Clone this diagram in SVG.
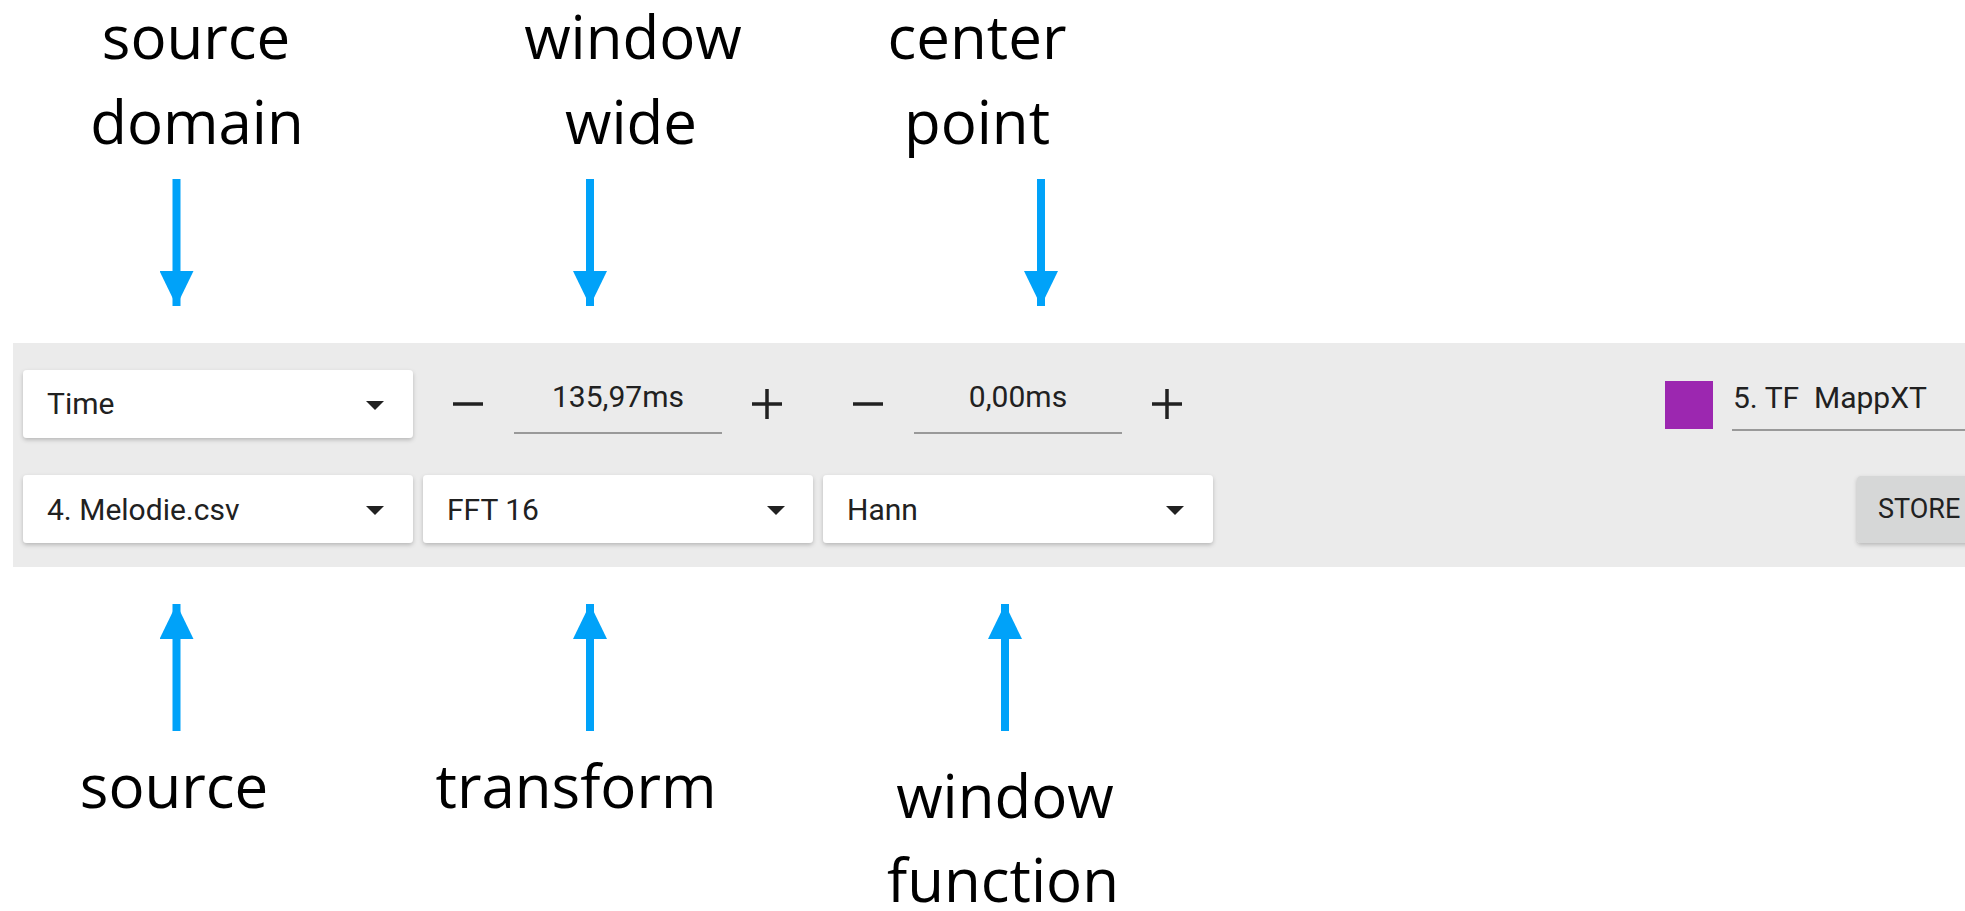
<svg xmlns="http://www.w3.org/2000/svg" width="1965" height="911" viewBox="0 0 1965 911">
<defs>
<filter id="sh" x="-5%" y="-20%" width="110%" height="150%">
<feDropShadow dx="0" dy="2" stdDeviation="2" flood-color="#000" flood-opacity="0.22"/>
</filter>
<marker id="ah" viewBox="0 0 35 34" refX="35" refY="17" markerWidth="35" markerHeight="34" markerUnits="userSpaceOnUse" orient="auto">
<path d="M0,0 L35,17 L0,34 Z" fill="#00a2f9"/>
</marker>
<style>
.lbl{font-family:"Open Sans","Noto Sans",sans-serif;font-size:60px;fill:#000;text-anchor:middle}
.ui{font-family:Roboto,"Liberation Sans",sans-serif;font-size:30px;fill:#212121}
.card{fill:#fff;filter:url(#sh)}
.tri{fill:#212121}
.ul{stroke:#999;stroke-width:2}
.pm{stroke:#212121;stroke-width:3.5;fill:none}
.arr{stroke:#00a2f9;stroke-width:8;fill:none;marker-end:url(#ah)}
</style>
</defs>
<rect x="0" y="0" width="1965" height="911" fill="#fff"/>
<rect id="toolbar" x="13" y="343" width="1952" height="224" fill="#ebebeb"/>

<g id="domain-select">
<rect class="card" x="23" y="370" width="390" height="68" rx="4"/>
<text class="ui" x="47" y="414">Time</text>
<path class="tri" d="M366,401 L384,401 L375,410 Z"/>
</g>
<g id="window-wide">
<line class="pm" x1="453" y1="404" x2="483" y2="404"/>
<text class="ui" x="618" y="407" text-anchor="middle">135,97ms</text>
<line class="ul" x1="514" y1="433" x2="722" y2="433"/>
<path class="pm" d="M752,404 H782 M767,389 V419"/>
</g>
<g id="center-point">
<line class="pm" x1="853" y1="404" x2="883" y2="404"/>
<text class="ui" x="1018" y="407" text-anchor="middle">0,00ms</text>
<line class="ul" x1="914" y1="433" x2="1122" y2="433"/>
<path class="pm" d="M1152,404 H1182 M1167,389 V419"/>
</g>
<g id="trace">
<rect x="1665" y="381" width="48" height="48" fill="#9c27b0"/>
<text class="ui" x="1733" y="408" xml:space="preserve">5. TF  MappXT</text>
<line class="ul" x1="1732" y1="430" x2="1965" y2="430"/>
</g>
<g id="source-select">
<rect class="card" x="23" y="475" width="390" height="68" rx="4"/>
<text class="ui" x="47" y="520">4. Melodie.csv</text>
<path class="tri" d="M366,506 L384,506 L375,515 Z"/>
</g>
<g id="transform-select">
<rect class="card" x="423" y="475" width="390" height="68" rx="4"/>
<text class="ui" x="447" y="520">FFT 16</text>
<path class="tri" d="M767,506 L785,506 L776,515 Z"/>
</g>
<g id="window-select">
<rect class="card" x="823" y="475" width="390" height="68" rx="4"/>
<text class="ui" x="847" y="520">Hann</text>
<path class="tri" d="M1166,506 L1184,506 L1175,515 Z"/>
</g>
<g id="store">
<rect x="1857" y="476" width="130" height="67" rx="4" fill="#d6d7d7" filter="url(#sh)"/>
<text class="ui" x="1878" y="518" style="font-size:27px">STORE</text>
</g>

<g id="label-source-domain"><text class="lbl" x="196" y="59">source</text><text class="lbl" x="197" y="144">domain</text></g>
<g id="label-window-wide"><text class="lbl" x="633" y="59">window</text><text class="lbl" x="631" y="144">wide</text></g>
<g id="label-center-point"><text class="lbl" x="977" y="59">center</text><text class="lbl" x="977" y="144">point</text></g>
<g id="label-source"><text class="lbl" x="174" y="808">source</text></g>
<g id="label-transform"><text class="lbl" x="576" y="808">transform</text></g>
<g id="label-window-function"><text class="lbl" x="1005" y="818">window</text><text class="lbl" x="1003" y="902">function</text></g>

<g id="connectors">
<line class="arr" x1="176.5" y1="179" x2="176.5" y2="306"/>
<line class="arr" x1="590" y1="179" x2="590" y2="306"/>
<line class="arr" x1="1041" y1="179" x2="1041" y2="306"/>
<line class="arr" x1="176.5" y1="731" x2="176.5" y2="604"/>
<line class="arr" x1="590" y1="731" x2="590" y2="604"/>
<line class="arr" x1="1005" y1="731" x2="1005" y2="604"/>
</g>
</svg>
